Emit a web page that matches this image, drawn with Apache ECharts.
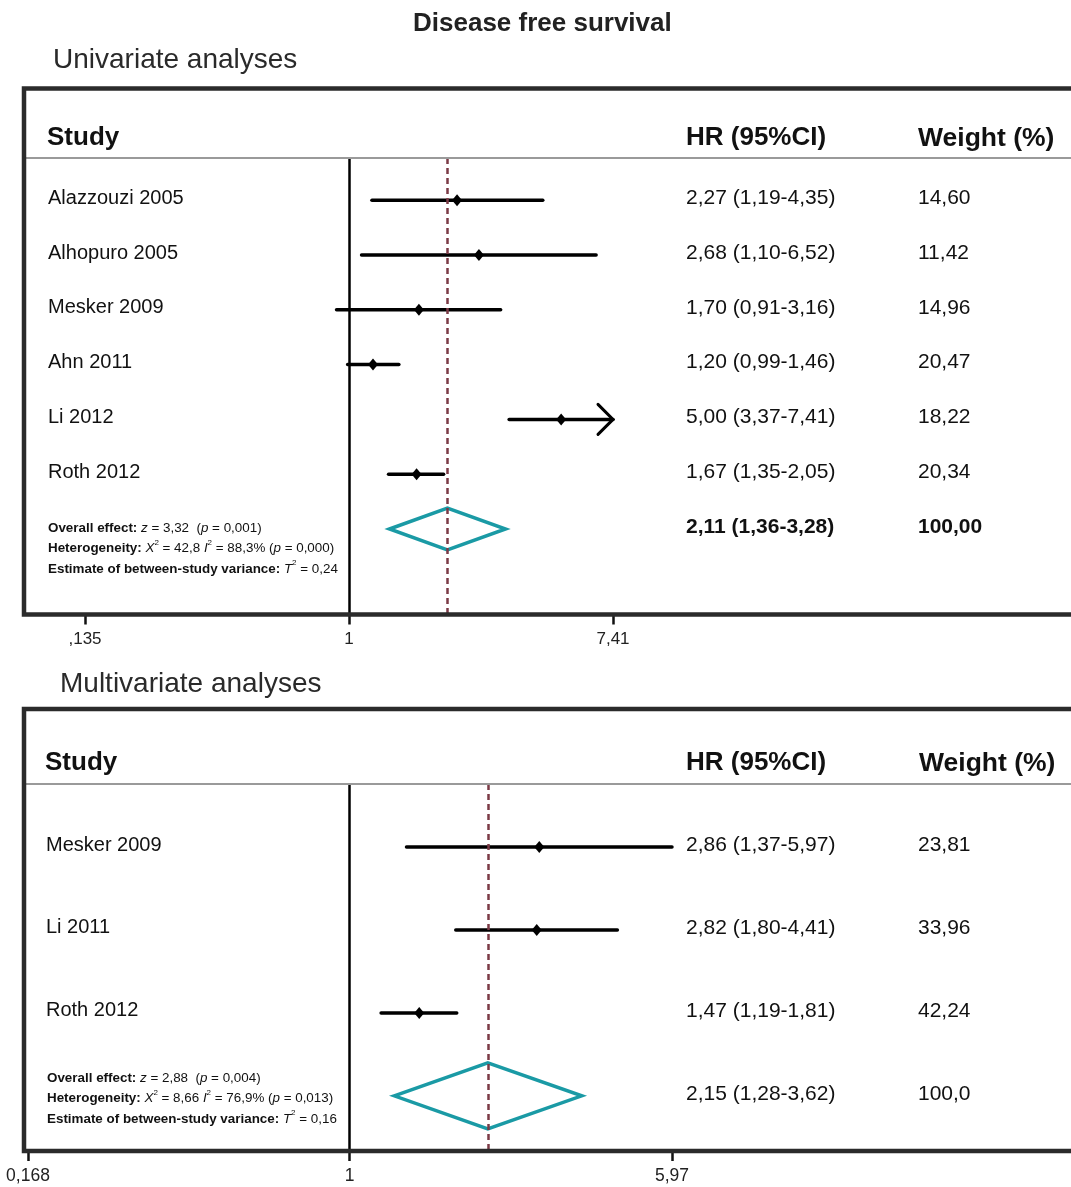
<!DOCTYPE html>
<html><head><meta charset="utf-8">
<script src="https://cdn.jsdelivr.net/npm/echarts@6/dist/echarts.min.js"></script>
<style>html,body{margin:0;padding:0;background:#fff}#chart{width:1071px;height:1187px}</style>
</head><body><div id="chart"></div>
<script>
// ---------- Univariate data ----------
const studiesUni = ['Alazzouzi 2005', 'Alhopuro 2005', 'Mesker 2009', 'Ahn 2011', 'Li 2012', 'Roth 2012'];
const hrUni = [2.27, 2.68, 1.70, 1.20, 5.00, 1.67];
const lowUni = [1.19, 1.10, 0.91, 0.99, 3.37, 1.35];
const highUni = [4.35, 6.52, 3.16, 1.46, 7.41, 2.05];
const weightUni = [14.60, 11.42, 14.96, 20.47, 18.22, 20.34];
const overallUni = [2.11, 1.36, 3.28];
const overallWeightUni = '100,00';
const tickValuesUni = [0.135, 1, 7.41];
const tickLabelsUni = [',135', '1', '7,41'];
const statsUni = [
  '{b|Overall effect:} {i|z} = 3,32  ({i|p} = 0,001)',
  '{b|Heterogeneity:} {i|X}{s|2} = 42,8 {i|I}{s|2} = 88,3% ({i|p} = 0,000)',
  '{b|Estimate of between-study variance:} {i|T}{s|2} = 0,24'
];

// ---------- Multivariate data ----------
const studiesMulti = ['Mesker 2009', 'Li 2011', 'Roth 2012'];
const hrMulti = [2.86, 2.82, 1.47];
const lowMulti = [1.37, 1.80, 1.19];
const highMulti = [5.97, 4.41, 1.81];
const weightMulti = [23.81, 33.96, 42.24];
const overallMulti = [2.15, 1.28, 3.62];
const overallWeightMulti = '100,0';
const tickValuesMulti = [0.168, 1, 5.97];
const tickLabelsMulti = ['0,168', '1', '5,97'];
const statsMulti = [
  '{b|Overall effect:} {i|z} = 2,88  ({i|p} = 0,004)',
  '{b|Heterogeneity:} {i|X}{s|2} = 8,66 {i|I}{s|2} = 76,9% ({i|p} = 0,013)',
  '{b|Estimate of between-study variance:} {i|T}{s|2} = 0,16'
];

const FONT = "'Liberation Sans', Arial, sans-serif";
const TXT = '#111111';
const TEAL = '#1a9aa5';
const MAROON = '#7b3a46';
const fmt = v => v.toFixed(2).replace('.', ',');

const chart = echarts.init(document.getElementById('chart'), null, {renderer: 'canvas'});

function rowsSeries(gi, studies, hr, lo, hi, wt, axMax) {
  return {
    type: 'custom', xAxisIndex: gi, yAxisIndex: gi, clip: false, z: 3,
    encode: {x: [0, 2, 3], y: 1},
    data: hr.map((h, i) => [h, i, lo[i], hi[i], wt[i]]),
    renderItem: function (params, api) {
      const i = params.dataIndex;
      const row = api.value(1);
      const pL = api.coord([api.value(2), row]);
      const pH = api.coord([Math.min(api.value(3), axMax), row]);
      const y = pL[1];
      const ch = [{
        type: 'line', shape: {x1: pL[0], y1: y, x2: pH[0], y2: y},
        style: {stroke: '#000', lineWidth: 3.5, lineCap: 'round'}
      }];
      if (api.value(3) >= axMax) {
        ch.push({type: 'polyline', shape: {points: [[pH[0] - 15, y - 15], [pH[0], y], [pH[0] - 15, y + 15]]},
          style: {stroke: '#000', lineWidth: 3, fill: null, lineCap: 'round'}});
      }
      const ty = y - 2;
      ch.push({type: 'text', x: 48 - (gi ? 2 : 0), y: ty, style: {text: studies[i], font: '20px ' + FONT, fill: TXT, verticalAlign: 'middle'}});
      ch.push({type: 'text', x: 686, y: ty, style: {text: fmt(api.value(0)) + ' (' + fmt(api.value(2)) + '-' + fmt(api.value(3)) + ')', font: '21px ' + FONT, fill: TXT, verticalAlign: 'middle'}});
      ch.push({type: 'text', x: 918, y: ty, style: {text: fmt(api.value(4)), font: '21px ' + FONT, fill: TXT, verticalAlign: 'middle'}});
      return {type: 'group', children: ch};
    }
  };
}

function pointSeries(gi, hr) {
  return {
    type: 'scatter', xAxisIndex: gi, yAxisIndex: gi, z: 5,
    symbol: 'diamond', symbolSize: [10, 12],
    itemStyle: {color: '#000', opacity: 1},
    data: hr.map((h, i) => [h, i]), silent: true
  };
}

function overallSeries(gi, ov, row, wLabel, halfH, bold) {
  return {
    type: 'custom', xAxisIndex: gi, yAxisIndex: gi, clip: false, z: 4,
    encode: {x: [0, 2, 3], y: 1},
    data: [[ov[0], row, ov[1], ov[2]]],
    renderItem: function (params, api) {
      const r = api.value(1);
      const c = api.coord([api.value(0), r]);
      const l = api.coord([api.value(2), r]);
      const h = api.coord([api.value(3), r]);
      const fw = bold ? 'bold ' : '';
      return {type: 'group', children: [
        {type: 'polygon', shape: {points: [[l[0], c[1]], [c[0], c[1] - halfH], [h[0], c[1]], [c[0], c[1] + halfH]]},
          style: {stroke: TEAL, lineWidth: 3.5, fill: 'rgba(255,255,255,0)'}},
        {type: 'text', x: 686, y: c[1] - 2, style: {text: fmt(api.value(0)) + ' (' + fmt(api.value(2)) + '-' + fmt(api.value(3)) + ')', font: fw + '21px ' + FONT, fill: TXT, verticalAlign: 'middle'}},
        {type: 'text', x: 918, y: c[1] - 2, style: {text: wLabel, font: fw + '21px ' + FONT, fill: TXT, verticalAlign: 'middle'}}
      ]};
    }
  };
}

function xAxisFor(gi, vals, labels, fs) {
  return {
    type: 'log', gridIndex: gi, logBase: 10, position: 'bottom',
    min: vals[0], max: vals[vals.length - 1],
    axisLine: {show: false, onZero: false},
    splitLine: {show: false},
    axisTick: {show: true, customValues: vals, length: 10, lineStyle: {color: '#111', width: 2.5}},
    axisLabel: {
      show: true, customValues: vals, margin: 16,
      fontFamily: FONT, fontSize: fs, color: '#222',
      formatter: v => { const k = vals.findIndex(t => Math.abs(t - v) < 1e-6); return k >= 0 ? labels[k] : ''; }
    }
  };
}

function header(y, xs) {
  return [
    {type: 'text', left: xs[0], top: y - 15, style: {text: 'Study', font: 'bold 26px ' + FONT, fill: TXT}},
    {type: 'text', left: 686, top: y - 15, style: {text: 'HR (95%CI)', font: 'bold 26px ' + FONT, fill: TXT}},
    {type: 'text', left: xs[1], top: y - 15, style: {text: 'Weight (%)', font: 'bold 26.5px ' + FONT, fill: TXT}}
  ];
}

const statsRich = {
  b: {fontWeight: 'bold', fontSize: 13.4, fontFamily: FONT, lineHeight: 20.5},
  i: {fontStyle: 'italic', fontSize: 13.4, fontFamily: FONT, lineHeight: 20.5},
  s: {fontSize: 8, fontFamily: FONT, lineHeight: 14, verticalAlign: 'top'}
};

const option = {
  backgroundColor: '#fff',
  animation: false,
  grid: [
    {left: 85, width: 528, top: 158, height: 456.5},
    {left: 28, width: 644, top: 784, height: 367}
  ],
  xAxis: [xAxisFor(0, tickValuesUni, tickLabelsUni, 17), xAxisFor(1, tickValuesMulti, tickLabelsMulti, 17.5)],
  yAxis: [
    {type: 'value', gridIndex: 0, inverse: true, min: -0.77, max: 7.56, show: false},
    {type: 'value', gridIndex: 1, inverse: true, min: -0.76, max: 3.665, show: false}
  ],
  graphic: [
    {type: 'text', left: 413, top: 11, style: {text: 'Disease free survival', font: 'bold 26px ' + FONT, fill: '#222'}},
    {type: 'text', left: 53, top: 46, style: {text: 'Univariate analyses', font: '28px ' + FONT, fill: '#2a2a2a'}},
    {type: 'text', left: 60, top: 670, style: {text: 'Multivariate analyses', font: '28px ' + FONT, fill: '#2a2a2a'}},
    {type: 'rect', z: 100, shape: {x: 24, y: 88.5, width: 1100, height: 526}, style: {stroke: '#2b2b2b', lineWidth: 4.5, fill: null}},
    {type: 'rect', z: 100, shape: {x: 24, y: 709, width: 1100, height: 442}, style: {stroke: '#2b2b2b', lineWidth: 4.5, fill: null}},
    {type: 'line', z: 90, shape: {x1: 26, y1: 158, x2: 1071, y2: 158}, style: {stroke: '#9a9a9a', lineWidth: 2}},
    {type: 'line', z: 90, shape: {x1: 26, y1: 784, x2: 1071, y2: 784}, style: {stroke: '#9a9a9a', lineWidth: 2}},
    ...header(140, [47, 918]),
    ...header(765, [45, 919]),
    {type: 'text', left: 48, top: 518, style: {text: statsUni.join('\n'), font: '13.4px ' + FONT, fill: TXT, lineHeight: 20.5, rich: statsRich}},
    {type: 'text', left: 47, top: 1068, style: {text: statsMulti.join('\n'), font: '13.4px ' + FONT, fill: TXT, lineHeight: 20, rich: statsRich}}
  ],
  series: [
    Object.assign(rowsSeries(0, studiesUni, hrUni, lowUni, highUni, weightUni, tickValuesUni[2]), {
      markLine: {
        silent: true, symbol: ['none', 'none'], label: {show: false},
        data: [
          {xAxis: 1, lineStyle: {color: '#000', width: 2.5, type: 'solid'}},
          {xAxis: overallUni[0], lineStyle: {color: MAROON, width: 2.5, type: [6, 4]}}
        ]
      }
    }),
    pointSeries(0, hrUni),
    overallSeries(0, overallUni, studiesUni.length, overallWeightUni, 21, true),
    Object.assign(rowsSeries(1, studiesMulti, hrMulti, lowMulti, highMulti, weightMulti, tickValuesMulti[2] + 100), {
      markLine: {
        silent: true, symbol: ['none', 'none'], label: {show: false},
        data: [
          {xAxis: 1, lineStyle: {color: '#000', width: 2.5, type: 'solid'}},
          {xAxis: overallMulti[0], lineStyle: {color: MAROON, width: 2.5, type: [6, 4]}}
        ]
      }
    }),
    pointSeries(1, hrMulti),
    overallSeries(1, overallMulti, studiesMulti.length, overallWeightMulti, 33, false)
  ]
};
chart.setOption(option);
</script></body></html>
